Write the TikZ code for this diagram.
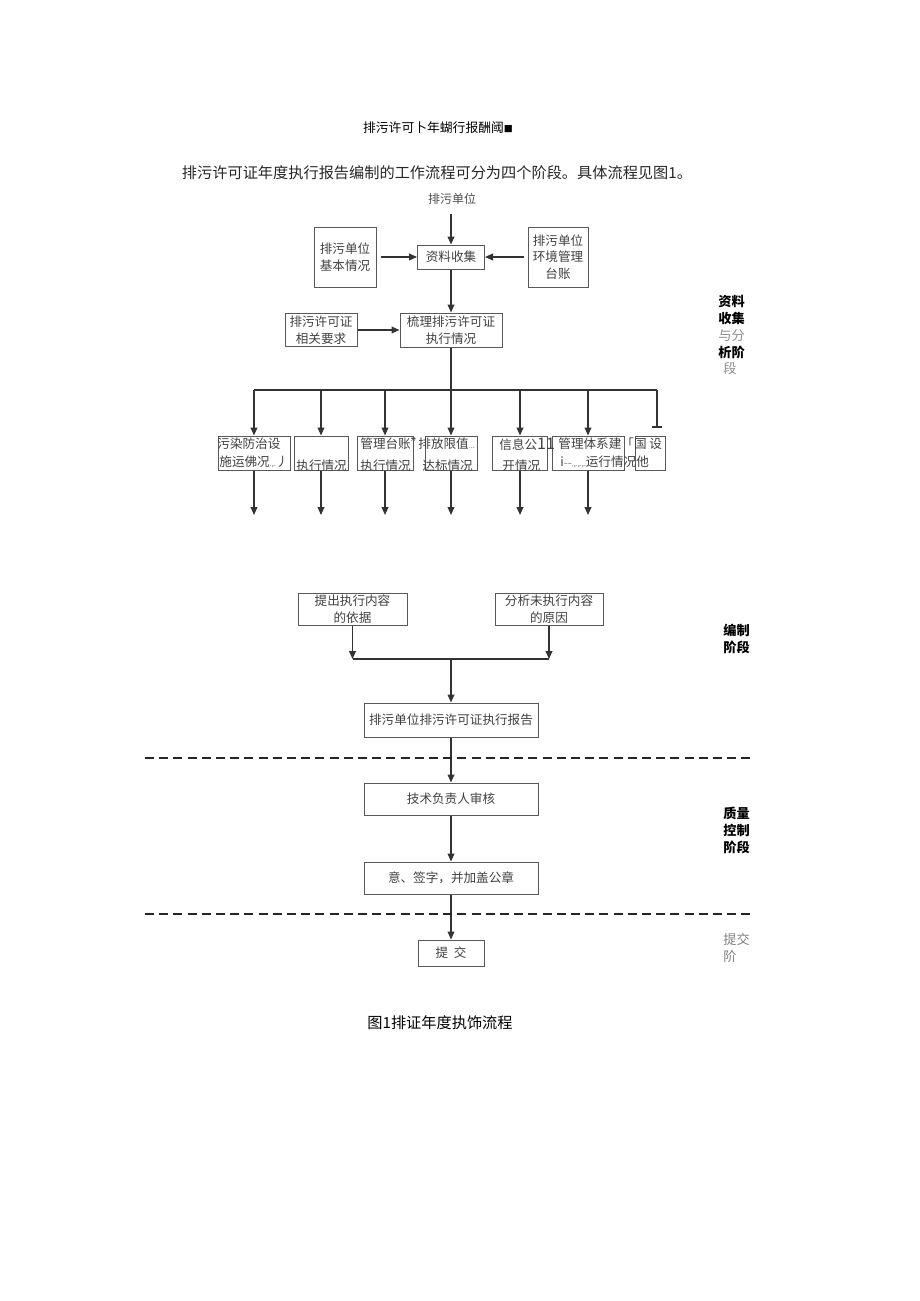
\documentclass[tikz,border=0pt]{standalone}
\usepackage{fontspec}
\setmainfont{Noto Sans CJK SC}
\usetikzlibrary{arrows.meta}

\newcommand\px{0.5pt}
\newcommand\smalldots[1]{{\fontsize{3.6}{4}\selectfont #1}}

\begin{document}
\begin{tikzpicture}[x=0.5pt, y=-0.5pt,
	box/.style={draw=black!65, line width=0.5pt, inner sep=0pt, text=black!75,
		font=\fontsize{6.3}{8.4}\selectfont, align=center},
	txt/.style={inner sep=0pt, anchor=west, text=black!75, font=\fontsize{6.3}{8}\selectfont},
	stage/.style={inner sep=0pt, anchor=north west, align=left, font=\fontsize{6.6}{8.4}\selectfont\bfseries},
	arr/.style={draw=black!80, line width=0.7pt, -{Triangle[length=4pt,width=3.4pt]}},
	link/.style={draw=black!80, line width=0.7pt},
	phase/.style={draw=black!85, line width=1pt, dash pattern=on 4.5pt off 2.6pt}]
	\useasboundingbox (0,0) rectangle (920,1301);

	% heading and text above the chart
	\node[inner sep=0pt, font=\fontsize{6.4}{8}\selectfont] (title) at (438,128) {排污许可卜年蝴行报酬阈{\fontsize{4.5}{5}\selectfont ■}};
	\node[inner sep=0pt, font=\fontsize{7.6}{9}\selectfont, text=black!85] (intro) at (437,173)
		{排污许可证年度执行报告编制的工作流程可分为四个阶段。具体流程见图1。};
	\node[inner sep=0pt, font=\fontsize{6}{7}\selectfont, text=black!70] (src) at (452,199) {排污单位};
	\coordinate (srcend) at (451,214);

	% collection and analysis
	\node[box, minimum width=67*\px, minimum height=24*\px] (ziliao) at (451,257) {资料收集};
	\node[box, minimum width=62*\px, minimum height=60*\px] (jiben) at (345,257) {排污单位\\基本情况};
	\node[box, minimum width=60*\px, minimum height=60*\px] (taizhang) at (558,257) {排污单位\\环境管理\\台账};
	\node[box, minimum width=102*\px, minimum height=34*\px] (shuli) at (451,330) {梳理排污许可证\\执行情况};
	\node[box, minimum width=72*\px, minimum height=33*\px] (yaoqiu) at (321,330) {排污许可证\\相关要求};

	\draw[arr] (srcend) -- (ziliao);
	\draw[arr] ([xshift=2pt]jiben.east) -- (ziliao.west);
	\draw[arr] ([xshift=-2pt]taizhang.west) -- (ziliao.east);
	\draw[arr] (ziliao) -- (shuli);
	\draw[arr] (yaoqiu) -- (shuli);

	% row of items
	\foreach \n/\x/\w in {r1/254/72, r2/321/54, r3/385/56, r4/451/52, r5/520/55, r6/588/72, r7/650/30}
		\node[box, minimum width=\w*\px, minimum height=34*\px] (\n) at (\x,453) {};
	\coordinate (bus) at (451,390);
	\coordinate (cut) at (657,428);
	\coordinate (low) at (451,515);
	\draw[link] (shuli) -- (bus);
	\draw[link] (bus -| r1) -- (bus -| cut);
	\foreach \i in {1,...,6} {
		\draw[arr] (bus -| r\i) -- (r\i);
		\draw[arr] (r\i) -- (r\i |- low);
	}
	\draw[link, -{Bar[width=5pt,line width=1.2pt]}] (bus -| cut) -- (cut);

	\node[txt] (t1a) at (217,444) {污染防治设};
	\node[txt] (t1b) at (219,462) {施运佛况\smalldots{.,.}丿};
	\node[txt] (t2) at (296,466) {执行情况};
	\node[txt] (t3a) at (360,444) {管理台账”};
	\node[txt] (t3b) at (360,466) {执行情况};
	\node[txt] (t4a) at (418,444) {排放限值\smalldots{...}};
	\node[txt] (t4b) at (422,466) {达标情况};
	\node[txt] (t5a) at (499,444) {信息公{\fontsize{8}{8}\selectfont 11}};
	\node[txt] (t5b) at (502,466) {开情况};
	\node[txt] (t6a) at (558,444) {管理体系建「国\ 设};
	\node[txt] (t6b) at (560,462) {i\smalldots{\textasciitilde\textasciitilde.,.,.,.}运行情况他};

	% report writing
	\node[box, minimum width=109*\px, minimum height=32*\px] (yiju) at (352.5,609) {提出执行内容\\的依据};
	\node[box, minimum width=108*\px, minimum height=32*\px] (yuanyin) at (549,609) {分析未执行内容\\的原因};
	\node[box, minimum width=174*\px, minimum height=34*\px] (baogao) at (451,720) {排污单位排污许可证执行报告};
	\coordinate (join) at (451,659);
	\draw[arr] (yiju) -- (yiju |- join);
	\draw[arr] (yuanyin) -- (yuanyin |- join);
	\draw[link] (yiju |- join) -- (yuanyin |- join);
	\draw[arr] (join) -- (baogao);

	% quality control and submission
	\node[box, minimum width=174*\px, minimum height=32*\px] (shenhe) at (451,799) {技术负责人审核};
	\node[box, minimum width=174*\px, minimum height=32*\px] (gaizhang) at (451,878) {意、签字，并加盖公章};
	\node[box, minimum width=66*\px, minimum height=26*\px] (tijiao) at (451,953) {提\ \ 交};
	\draw[arr] (baogao) -- (shenhe);
	\draw[arr] (shenhe) -- (gaizhang);
	\draw[arr] (gaizhang) -- (tijiao);

	\draw[phase] (145,758) -- (750,758);
	\draw[phase] (145,914) -- (750,914);

	% stage names on the right
	\node[stage] (s1) at (718,295) {资料\\收集\\{\mdseries\color{black!45}与分}\\析阶\\{\mdseries\color{black!45}\hspace{2.5pt}段}};
	\node[stage] (s2) at (723,624) {编制\\阶段};
	\node[stage] (s3) at (723,807) {质量\\控制\\阶段};
	\node[stage, font=\fontsize{6.6}{8.4}\selectfont\mdseries, text=black!50] (s4) at (723,933) {提交\\阶};

	\node[inner sep=0pt, font=\fontsize{7.6}{9}\selectfont] (caption) at (440,1023) {图1排证年度执饰流程};
\end{tikzpicture}
\end{document}
